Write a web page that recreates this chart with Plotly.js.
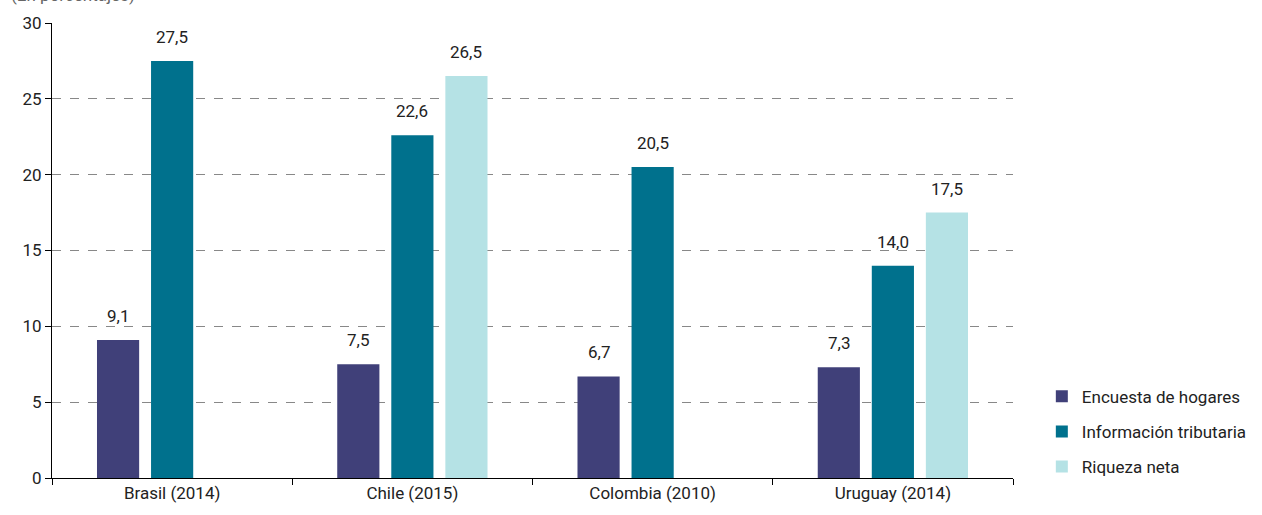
<!DOCTYPE html>
<html><head><meta charset="utf-8">
<script src="https://cdn.plot.ly/plotly-3.0.1.min.js"></script>
<style>body{margin:0;background:#fff}#c{width:1262px;height:515px}</style>
</head><body><div id="c"></div>
<script>
const categories = ["Brasil (2014)", "Chile (2015)", "Colombia (2010)", "Uruguay (2014)"];
const seriesNames = ["Encuesta de hogares", "Información tributaria", "Riqueza neta"];
const encuesta = [9.1, 7.5, 6.7, 7.3];
const tributaria = [27.5, 22.6, 20.5, 14.0];
const riqueza = [null, 26.5, null, 17.5];
const colors = ["#404079", "#00718d", "#b5e2e5"];
const yTicks = [0, 5, 10, 15, 20, 25, 30];

const font = {family: "Roboto, Liberation Sans Narrow, sans-serif", size: 17, color: "#222"};
const fmt = v => v.toFixed(1).replace(".", ",");

const series = [encuesta, tributaria, riqueza];
const traces = series.map((vals, i) => ({
  type: "bar", x: categories, y: vals, name: seriesNames[i],
  legendgroup: "g" + i,
  marker: {color: colors[i]}, hoverinfo: "none"
}));

const annotations = [];
series.forEach((vals, i) => vals.forEach((v, j) => {
  if (v == null) return;
  annotations.push({x: categories[j], y: v, xref: "x", yref: "y",
    text: fmt(v), showarrow: false, xanchor: "center", yanchor: "bottom",
    xshift: (i - 1) * 54, yshift: 12, font: font});
}));
annotations.push({text: "(En porcentajes)", xref: "paper", yref: "paper",
  x: -0.045, y: 1, xanchor: "left", yanchor: "bottom", yshift: 16,
  showarrow: false, font: {family: font.family, size: 17, color: "#666"}});

const layout = {
  width: 1262, height: 515,
  margin: {l: 52, r: 249, t: 23, b: 37, autoexpand: false},
  barmode: "group", bargap: 0.325, bargroupgap: 0.22,
  font: font,
  paper_bgcolor: "#fff", plot_bgcolor: "#fff",
  xaxis: {
    showline: true, linecolor: "#000", linewidth: 1,
    ticks: "outside", tickson: "boundaries", ticklen: 6, tickcolor: "#000",
    showgrid: false, tickfont: font
  },
  yaxis: {
    range: [0, 30], tickvals: yTicks, ticktext: yTicks.map(String),
    showline: true, linecolor: "#000", linewidth: 1,
    ticks: "outside", ticklen: 6, tickcolor: "#000",
    showgrid: true, gridcolor: "#888", griddash: "dash", gridwidth: 1,
    zeroline: false, tickfont: font
  },
  legend: {x: 1.03, xanchor: "left", y: 0.218, yanchor: "top",
    font: font, traceorder: "grouped", tracegroupgap: 10},
  annotations: annotations
};
Plotly.newPlot("c", traces, layout, {displayModeBar: false, staticPlot: true});
</script></body></html>
